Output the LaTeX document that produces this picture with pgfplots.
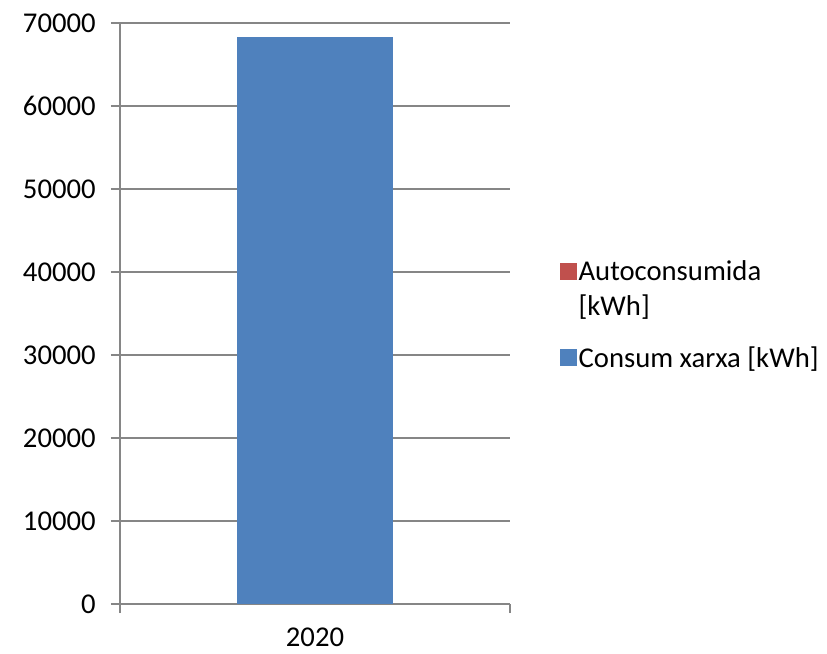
\documentclass[border=0pt]{standalone}
\usepackage{fontspec}
\setmainfont{Carlito}
\usepackage{pgfplots}
\pgfplotsset{compat=1.18}
\definecolor{gridgray}{HTML}{868686}
\definecolor{xarxablue}{HTML}{4F81BD}
\definecolor{autored}{HTML}{C0504D}

\begin{document}
\begin{tikzpicture}
\begin{axis}[
  at={(0,0)}, anchor=south west,
  scale only axis, width=292.5pt, height=435.75pt,
  ybar stacked, bar width=0.4,
  xmin=-0.5, xmax=0.5, ymin=0, ymax=70000,
  ytick={0,10000,...,70000},
  xtick={-0.5,0.5}, xticklabels={},
  extra x ticks={0}, extra x tick labels={2020},
  extra x tick style={major tick length=0pt},
  axis x line*=bottom, axis y line*=left,
  axis line style={gridgray, line width=1pt, -},
  ymajorgrids, grid style={gridgray, line width=1pt},
  tick align=outside, major tick length=6.75pt,
  tick style={gridgray, line width=1pt},
  scaled y ticks=false,
  /pgf/number format/1000 sep={},
  /pgf/number format/assume math mode=true,
  ticklabel style={font=\fontsize{21.5}{26}\selectfont, text=black},
  xticklabel style={inner sep=0pt, yshift=-18pt},
  yticklabel style={xshift=-8pt},
  legend style={draw=none, fill=none, at={(1.118,0.599)}, anchor=north west,
    font=\fontsize{21.5}{26.25}\selectfont, row sep=20pt,
    nodes={inner sep=1pt, align=left}},
  legend cell align=left,
  reverse legend,
  legend image code/.code={\fill[#1] (-3.75pt,-6.4pt) rectangle (9pt,6.4pt);},
]
\addplot[fill=xarxablue, draw=none] coordinates {(0,68300)};
\addplot[fill=autored, draw=none,
  legend image code/.code={\fill[##1] (-3.75pt,6.7pt) rectangle (9pt,19.5pt);}]
  coordinates {(0,0)};
\legend{Consum xarxa [kWh], Autoconsumida\\{}[kWh]}
\end{axis}
\useasboundingbox (-90pt,-36.75pt) rectangle (530.25pt,453pt);
\end{tikzpicture}
\end{document}
